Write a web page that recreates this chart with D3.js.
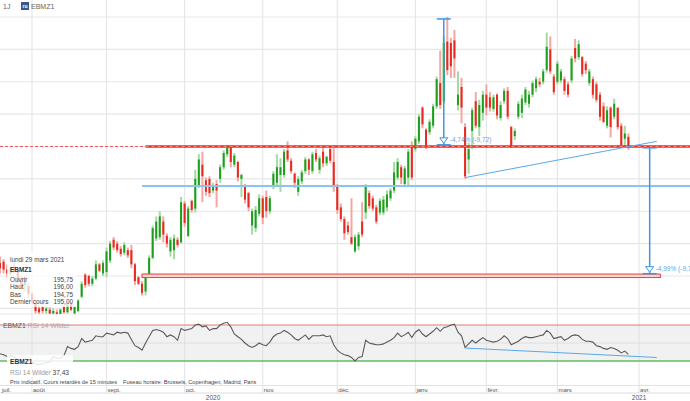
<!DOCTYPE html>
<html>
<head>
<meta charset="utf-8">
<script src="https://cdn.jsdelivr.net/npm/d3@7/dist/d3.min.js"></script>
<style>
  body { margin: 0; background: #fff; }
  svg { display: block; font-family: "Liberation Sans", Arial, sans-serif; }
</style>
</head>
<body>
<svg id="svg" width="690" height="401"></svg>
<script>
(function() {
  'use strict';

  // trading days on the axis: weekdays minus exchange holidays
  var firstDay = '2020-07-20', lastDay = '2021-04-17';
  var holidays = ['2020-12-25', '2021-01-01'];

  var monthLabels = ['juil.', 'août', 'sept.', 'oct.', 'nov.', 'déc.', 'janv.', 'févr.', 'mars', 'avr.'];
  var monthStarts = ['2020-07-01', '2020-08-01', '2020-09-01', '2020-10-01', '2020-11-01',
    '2020-12-01', '2021-01-01', '2021-02-01', '2021-03-01', '2021-04-01'];
  var yearLabels = ['2020', '2021'];
  var yearDates = ['2020-10-13', '2021-04-01'];

  // daily candles [open, high, low, close], 20 Jul 2020 -> 29 Mar 2021
  var ohlc = [
    [186.6,187.0,185.8,186.0],[186.0,186.5,185.2,185.6],[186.1,186.3,185.2,185.5],[185.5,185.9,184.9,185.2],
    [185.2,185.8,184.8,185.6],[185.7,186.0,185.2,185.4],[185.4,185.6,184.3,184.6],[184.6,185.0,184.0,184.3],
    [184.3,184.9,183.8,184.6],[184.2,184.5,183.3,183.6],[183.6,183.8,182.8,183.0],[182.9,183.1,182.1,182.3],
    [182.5,182.7,182.0,182.2],[182.6,182.8,182.1,182.3],[182.3,182.6,182.0,182.5],[182.4,182.6,181.9,182.1],
    [182.1,182.5,181.9,182.3],[182.2,182.4,181.8,182.0],[182.0,182.5,181.9,182.4],[182.6,182.8,182.1,182.2],
    [182.2,183.0,182.1,182.8],[182.9,183.0,182.3,182.4],[182.1,182.7,181.9,182.6],[182.3,183.2,182.2,183.1],
    [183.4,184.6,183.3,184.4],[185.1,185.2,184.1,184.3],[185.0,185.1,184.2,184.4],[184.4,185.0,184.2,184.8],
    [184.8,186.2,184.7,185.9],[185.9,186.0,185.3,185.4],[185.2,186.2,185.0,186.0],[185.3,187.2,184.9,186.9],
    [186.2,187.7,186.0,187.5],[187.8,188.0,187.0,187.2],[187.5,187.7,186.8,187.0],[187.1,187.3,186.5,186.7],
    [186.8,187.6,186.6,187.4],[187.0,187.2,186.4,186.6],[187.0,187.4,185.6,185.9],[185.9,186.0,184.3,184.6],
    [184.9,185.0,184.3,184.4],[184.4,184.6,183.5,183.7],[183.8,185.2,183.5,185.0],[185.1,186.6,185.0,186.4],
    [186.4,188.9,186.3,188.7],[187.9,189.6,187.7,189.2],[188.0,190.0,187.8,189.6],[189.2,189.6,187.6,188.2],
    [188.1,188.3,187.2,187.5],[186.9,188.0,186.5,187.8],[187.0,188.2,186.3,187.9],[187.8,188.0,187.2,187.4],
    [187.6,191.1,187.5,190.7],[190.6,190.8,188.8,189.1],[188.1,190.4,188.0,190.2],[190.8,190.9,189.9,190.1],
    [190.2,193.2,189.9,192.5],[192.0,194.4,191.8,194.0],[193.6,194.6,190.7,192.7],[192.4,192.6,191.2,191.5],
    [192.5,192.7,191.1,191.4],[191.6,192.2,191.4,192.0],[192.1,192.4,190.3,191.6],[192.5,193.6,192.2,193.4],
    [193.4,194.7,193.2,194.5],[194.4,195.1,194.2,194.9],[195.0,195.1,193.4,193.8],[193.6,194.5,193.4,194.3],
    [193.8,193.9,192.3,192.6],[192.5,192.9,191.1,192.8],[192.0,192.1,190.6,190.9],[191.4,191.5,190.0,190.3],
    [188.9,190.2,188.2,190.0],[188.7,190.4,188.4,190.1],[189.8,191.3,189.6,191.0],[191.0,191.2,189.0,189.5],
    [191.1,191.6,189.5,190.0],[190.0,191.2,189.8,191.0],[191.9,193.1,191.7,192.9],[192.2,194.4,191.9,193.4],
    [192.8,194.1,191.5,193.4],[192.8,194.8,192.6,194.6],[194.7,195.4,193.8,194.0],[193.9,194.1,192.9,193.1],
    [192.9,193.0,191.8,192.2],[191.5,192.7,191.2,192.5],[192.3,193.2,192.1,193.0],[193.1,194.2,192.9,194.0],
    [194.0,194.1,192.8,193.2],[193.1,194.6,192.9,194.4],[194.5,194.8,193.8,194.0],[193.2,194.3,192.9,194.1],
    [194.6,195.0,193.4,193.7],[193.7,194.3,193.5,194.2],[194.8,195.0,193.7,193.9],[193.8,194.9,191.5,192.0],
    [192.0,192.1,189.8,190.1],[190.3,190.6,189.2,189.4],[189.4,189.6,187.8,188.3],[188.9,189.2,188.2,188.4],
    [188.0,191.0,187.4,187.5],[186.9,188.2,186.8,188.0],[187.3,188.4,187.0,188.2],[189.2,190.7,188.0,188.2],
    [189.9,192.1,189.4,191.9],[191.4,191.6,190.2,190.4],[191.0,191.2,190.0,190.2],[190.3,190.5,189.0,189.2],
    [189.9,191.0,189.7,190.8],[189.9,191.2,189.7,190.9],[190.3,191.6,190.0,191.3],[191.0,191.8,190.8,191.6],
    [191.6,193.8,191.4,193.0],[192.6,194.1,192.4,193.8],[193.4,193.6,192.1,192.6],[192.1,193.5,191.9,193.3],
    [192.6,194.8,191.9,194.6],[195.0,195.4,192.4,192.6],[194.8,195.8,194.6,195.6],[195.4,197.5,195.2,197.3],
    [198.0,198.1,196.4,196.7],[196.3,196.4,194.8,195.1],[196.1,197.1,195.9,196.9],[196.6,198.3,196.4,198.1],
    [198.1,200.4,197.9,200.2],[199.9,202.4,197.9,198.2],[198.5,203.5,198.3,203.0],[203.1,205.0,200.5,200.9],
    [203.0,203.4,200.3,201.2],[203.2,204.0,200.3,201.8],[198.2,200.8,197.8,199.0],[199.6,200.3,196.8,198.0],
    [196.5,196.8,192.5,192.7],[194.0,195.3,192.9,194.8],[196.2,198.0,194.8,197.8],[198.5,199.2,196.4,196.6],
    [196.5,198.6,195.8,198.2],[197.6,199.3,197.0,199.0],[199.0,199.8,197.4,198.0],[198.8,199.2,197.7,198.0],
    [197.9,199.0,197.7,198.8],[199.0,199.1,197.1,197.4],[197.2,198.5,197.0,198.2],[198.5,199.5,198.3,199.3],
    [199.3,199.6,197.1,197.3],[196.5,196.6,194.9,195.0],[195.8,196.4,195.5,196.2],[197.3,198.5,197.1,198.3],
    [197.6,199.0,197.2,198.7],[198.4,199.6,198.2,199.4],[198.3,199.3,198.0,199.0],[199.0,200.1,198.8,199.9],
    [199.5,200.4,199.2,200.2],[200.0,200.3,199.6,199.8],[200.0,201.0,199.8,200.8],[200.9,203.8,200.7,202.7],
    [202.5,203.5,200.6,200.8],[200.4,200.6,199.0,199.2],[200.0,201.6,199.8,201.4],[200.1,201.0,199.9,200.8],
    [200.2,200.4,199.0,199.3],[199.8,200.0,198.8,199.0],[200.1,202.0,199.9,201.8],[202.6,203.3,201.5,201.8],
    [201.9,203.2,201.7,202.9],[201.9,202.0,200.4,200.6],[201.4,201.6,200.6,200.9],[199.9,201.0,199.7,200.8],
    [200.2,200.4,198.7,199.0],[199.8,200.0,198.4,198.6],[199.0,199.2,197.0,197.3],[198.1,198.4,196.8,196.9],
    [196.6,198.1,196.4,197.8],[198.0,198.1,195.7,196.5],[197.3,198.7,197.1,198.3],[198.0,198.0,196.3,196.5],
    [196.6,196.8,194.9,195.1],[195.6,196.6,194.9,196.0],[195.75,196.0,194.75,195.0]
  ];

  // RSI 14 Wilder, one value per candle
  var rsi = [
    40,38,37,35,36,35,32,31,33,30,29,27,26,27,28,29,
    35,33,33,36,46,44,43,46,55,51,52,53,58,57,57,61,
    60,59,62,61,62,61,54,47,45,42,50,57,64,65,64,62,
    57,59,57,53,66,64,65,66,70,71,68,69,64,66,66,70,
    72,73,68,60,57,54,50,47,45,47,50,48,47,51,57,60,
    61,64,62,59,55,53,56,59,54,58,58,58,59,57,58,48,
    42,39,37,36,34,30,34,35,53,50,49,48,48,49,51,53,
    56,61,57,59,62,56,62,65,60,57,60,63,67,63,67,68,
    70,71,62,58,45,49,53,50,53,56,53,52,51,52,54,58,
    55,48,50,52,55,57,56,56,57,58,59,64,61,55,56,57,
    53,55,58,59,58,54,52,52,51,47,46,44,43,45,44,42,
    39,41,37.43
  ];

  // drawn objects on the chart
  var lastPrice = 195.0;
  var resistance = { from: '2020-09-16', price: 195.0 };
  var supportBand = { from: '2020-09-15', to: '2021-04-09', low: 184.88, high: 185.15 };
  var blueLevel = { from: '2020-09-15', price: 191.95 };
  var trendDates = ['2021-01-22', '2021-04-08'];
  var trendPrices = [192.6, 195.4];
  var rsiTrendValues = [44.4, 33.9];
  var measures = [
    { date: '2021-01-14', from: 204.85, to: 195.13, label: '-4,74% (-9,72)' },
    { date: '2021-04-06', from: 194.9, to: 185.18, label: '-4,99% (-9,72)' }
  ];

  var parse = d3.timeParse('%Y-%m-%d'), fmt = d3.timeFormat('%Y-%m-%d');
  var days = d3.timeDay.range(parse(firstDay), parse(lastDay))
    .filter(function(d) { return d.getDay() % 6 !== 0 && holidays.indexOf(fmt(d)) < 0; })
    .map(fmt);

  var W = 690, plotBottom = 314;
  var up = '#1d9f1d', upPale = '#a3dba3', down = '#e8291f', downPale = '#f4a7a2';
  var blue = '#3b97e6';

  var x = d3.scaleBand().domain(days).range([-5.3, -5.3 + days.length * 3.55]);
  var cx = function(d) { return x(d) + x.bandwidth() / 2; };
  var y = d3.scaleLinear().domain([185, 205]).range([276, 17]);
  var yr = d3.scaleLinear().domain([30, 70]).range([361, 325]);

  // first trading day of a month
  var firstTrading = function(s) {
    for (var i = 0; i < days.length; i++) { if (days[i] >= s) return days[i]; }
    return null;
  };

  var svg = d3.select('#svg');
  svg.append('rect').attr('width', W).attr('height', 401).attr('fill', '#fff');

  svg.append('defs').append('clipPath').attr('id', 'plot')
    .append('rect').attr('width', W).attr('height', plotBottom);

  // grid
  var grid = svg.append('g').attr('stroke', '#e7e7e7').attr('stroke-width', 1.2);
  grid.selectAll('.h').data(d3.range(182.5, 206, 2.5)).enter().append('line')
    .attr('x1', 0).attr('x2', W).attr('y1', y).attr('y2', y);
  monthStarts.forEach(function(s) {
    var d = firstTrading(s);
    if (d === days[0]) return;
    grid.append('line').attr('x1', cx(d)).attr('x2', cx(d)).attr('y1', 0).attr('y2', 393);
  });
  grid.append('line').attr('x1', 0).attr('x2', W).attr('y1', plotBottom).attr('y2', plotBottom);

  var plot = svg.append('g').attr('clip-path', 'url(#plot)');

  // last price line
  plot.append('line')
    .attr('x1', 0).attr('x2', W).attr('y1', y(lastPrice)).attr('y2', y(lastPrice))
    .attr('stroke', '#f05a5a').attr('stroke-dasharray', '3,2');

  // candles
  var bw = 2;
  var candles = plot.selectAll('.c').data(ohlc).enter().append('g');
  candles.append('rect')
    .attr('x', function(d, i) { return cx(days[i]) - bw / 2; })
    .attr('width', bw)
    .attr('y', function(d) { return y(d[1]); })
    .attr('height', function(d) { return y(d[2]) - y(d[1]); })
    .attr('fill', function(d) { return d[3] >= d[0] ? upPale : downPale; });
  candles.append('rect')
    .attr('x', function(d, i) { return cx(days[i]) - bw / 2; })
    .attr('width', bw)
    .attr('y', function(d) { return y(Math.max(d[0], d[3])); })
    .attr('height', function(d) { return Math.max(1, Math.abs(y(d[0]) - y(d[3]))); })
    .attr('fill', function(d) { return d[3] >= d[0] ? up : down; });

  // horizontal levels
  plot.append('line')
    .attr('x1', cx(blueLevel.from)).attr('x2', W)
    .attr('y1', y(blueLevel.price)).attr('y2', y(blueLevel.price))
    .attr('stroke', '#8cc4ef').attr('stroke-width', 2);
  plot.append('rect')
    .attr('x', cx(supportBand.from)).attr('width', cx(supportBand.to) - cx(supportBand.from))
    .attr('y', y(supportBand.high)).attr('height', y(supportBand.low) - y(supportBand.high))
    .attr('fill', '#fbd3d1').attr('stroke', '#e8403a').attr('stroke-width', 1);
  plot.append('line')
    .attr('x1', cx(resistance.from)).attr('x2', W)
    .attr('y1', y(resistance.price)).attr('y2', y(resistance.price))
    .attr('stroke', '#ee2b25').attr('stroke-width', 2.6);
  plot.append('line')
    .attr('x1', cx(resistance.from)).attr('x2', W)
    .attr('y1', y(resistance.price)).attr('y2', y(resistance.price))
    .attr('stroke', '#ff9c98').attr('stroke-width', 0.8).attr('stroke-dasharray', '3,3');

  // trend line on price
  plot.append('line')
    .attr('x1', cx(trendDates[0])).attr('y1', y(trendPrices[0]))
    .attr('x2', cx(trendDates[1])).attr('y2', y(trendPrices[1]))
    .attr('stroke', '#5aa8ea').attr('stroke-width', 1);

  // measuring tools
  measures.forEach(function(m) {
    var mx = cx(m.date), y0 = y(m.from), y1 = y(m.to);
    var gm = plot.append('g').attr('stroke', blue).attr('fill', 'none');
    gm.append('line').attr('x1', mx).attr('x2', mx).attr('y1', y0).attr('y2', y1).attr('stroke-width', 1.5);
    gm.append('line').attr('x1', mx - 7).attr('x2', mx + 7).attr('y1', y0).attr('y2', y0).attr('stroke-width', 1.5);
    gm.append('line').attr('x1', mx - 7).attr('x2', mx + 7).attr('y1', y1).attr('y2', y1).attr('stroke-width', 1.5);
    gm.append('path').attr('fill', '#fff').attr('stroke-width', 1)
      .attr('d', 'M' + (mx - 4) + ',' + (y1 - 7) + 'L' + (mx + 4) + ',' + (y1 - 7) + 'L' + mx + ',' + (y1 - 1.5) + 'Z');
    plot.append('text').attr('x', mx + 6).attr('y', y1 - 3)
      .attr('font-size', 6.5).attr('fill', '#5aa9ec').text(m.label);
  });

  // RSI panel
  svg.append('rect').attr('x', 0).attr('width', W).attr('y', yr(70)).attr('height', yr(30) - yr(70))
    .attr('fill', '#f1f1f1');
  monthStarts.forEach(function(s) {
    var d = firstTrading(s);
    if (d === days[0]) return;
    svg.append('line').attr('x1', cx(d)).attr('x2', cx(d)).attr('y1', yr(70)).attr('y2', yr(30))
      .attr('stroke', '#e2e2e2').attr('stroke-width', 1.2);
  });
  svg.append('line').attr('x1', 0).attr('x2', W).attr('y1', yr(50)).attr('y2', yr(50))
    .attr('stroke', '#dedede');
  svg.append('line').attr('x1', 0).attr('x2', W).attr('y1', yr(70)).attr('y2', yr(70))
    .attr('stroke', '#e37a77').attr('stroke-width', 1);
  svg.append('line').attr('x1', 0).attr('x2', W).attr('y1', yr(30)).attr('y2', yr(30))
    .attr('stroke', '#62bd62').attr('stroke-width', 1.5);

  var rsiLine = d3.line()
    .x(function(d, i) { return cx(days[i]); })
    .y(function(d) { return yr(d); });
  svg.append('path').attr('d', rsiLine(rsi))
    .attr('fill', 'none').attr('stroke', '#5a5a5a').attr('stroke-width', 1.1);
  svg.append('line')
    .attr('x1', cx(trendDates[0])).attr('y1', yr(rsiTrendValues[0]))
    .attr('x2', cx(trendDates[1])).attr('y2', yr(rsiTrendValues[1]))
    .attr('stroke', '#5aa8ea').attr('stroke-width', 1);

  var rsiTitle = svg.append('text').attr('x', 3).attr('y', 327.5).attr('font-size', 6.8);
  rsiTitle.append('tspan').attr('fill', '#555').text('EBMZ1');
  rsiTitle.append('tspan').attr('fill', '#aaa').text(' RSI 14 Wilder');

  // info boxes
  svg.append('rect').attr('x', 7).attr('y', 251).attr('width', 69).attr('height', 56)
    .attr('fill', '#fff').attr('fill-opacity', 0.72);
  var info = svg.append('g').attr('font-size', 6.4).attr('fill', '#444');
  info.append('text').attr('x', 10).attr('y', 262).text('lundi 29 mars 2021');
  info.append('text').attr('x', 10).attr('y', 272).attr('font-weight', 'bold').attr('fill', '#333').text('EBMZ1');
  var rows = [['Ouvrir', ohlc[178][0]], ['Haut', ohlc[178][1]], ['Bas', ohlc[178][2]], ['Dernier cours', ohlc[178][3]]];
  var num = function(v) { return v.toFixed(2).replace('.', ','); };
  rows.forEach(function(r, i) {
    info.append('text').attr('x', 10).attr('y', 281.5 + i * 7.6).text(r[0]);
    info.append('text').attr('x', 73).attr('y', 281.5 + i * 7.6).attr('text-anchor', 'end').text(num(r[1]));
  });

  svg.append('rect').attr('x', 7).attr('y', 355).attr('width', 66).attr('height', 22)
    .attr('fill', '#fff').attr('fill-opacity', 0.85);
  svg.append('text').attr('x', 10).attr('y', 364).attr('font-size', 6.6).attr('font-weight', 'bold')
    .attr('fill', '#333').text('EBMZ1');
  var rsiInfo = svg.append('text').attr('x', 10).attr('y', 374.5).attr('font-size', 6.6);
  rsiInfo.append('tspan').attr('fill', '#999').text('RSI 14 Wilder ');
  rsiInfo.append('tspan').attr('fill', '#444').text(num(rsi[rsi.length - 1]));

  svg.append('text').attr('x', 10).attr('y', 384).attr('font-size', 5.6).attr('fill', '#444')
    .text('Prix indicatif. Cours retardés de 15 minutes');
  svg.append('text').attr('x', 123).attr('y', 384).attr('font-size', 5.6).attr('fill', '#444')
    .text('Fuseau horaire: Brussels, Copenhagen, Madrid, Paris');

  // time axis
  svg.append('line').attr('x1', 0).attr('x2', W).attr('y1', 385.5).attr('y2', 385.5).attr('stroke', '#e2e2e2');
  svg.append('line').attr('x1', 0).attr('x2', W).attr('y1', 393).attr('y2', 393).attr('stroke', '#dcdcdc');
  monthLabels.forEach(function(lab, i) {
    var d = firstTrading(monthStarts[i]);
    var lx = d === days[0] ? 2 : cx(d) + 1;
    svg.append('text').attr('x', lx).attr('y', 391.5).attr('font-size', 6.1).attr('fill', '#555').text(lab);
  });
  yearLabels.forEach(function(lab, i) {
    svg.append('text').attr('x', cx(firstTrading(yearDates[i]))).attr('y', 399.5)
      .attr('text-anchor', 'middle').attr('font-size', 6.5).attr('fill', '#555').text(lab);
  });

  // header
  svg.append('text').attr('x', 3).attr('y', 8.5).attr('font-size', 7).attr('fill', '#666').text('1J');
  svg.append('rect').attr('x', 21).attr('y', 2).attr('width', 8).attr('height', 8).attr('fill', '#3f5488');
  svg.append('text').attr('x', 25).attr('y', 8).attr('text-anchor', 'middle').attr('font-size', 5)
    .attr('font-weight', 'bold').attr('fill', '#fff').text('ru');
  svg.append('text').attr('x', 31).attr('y', 8.5).attr('font-size', 7).attr('fill', '#666').text('EBMZ1');
}());
</script>
</body>
</html>
